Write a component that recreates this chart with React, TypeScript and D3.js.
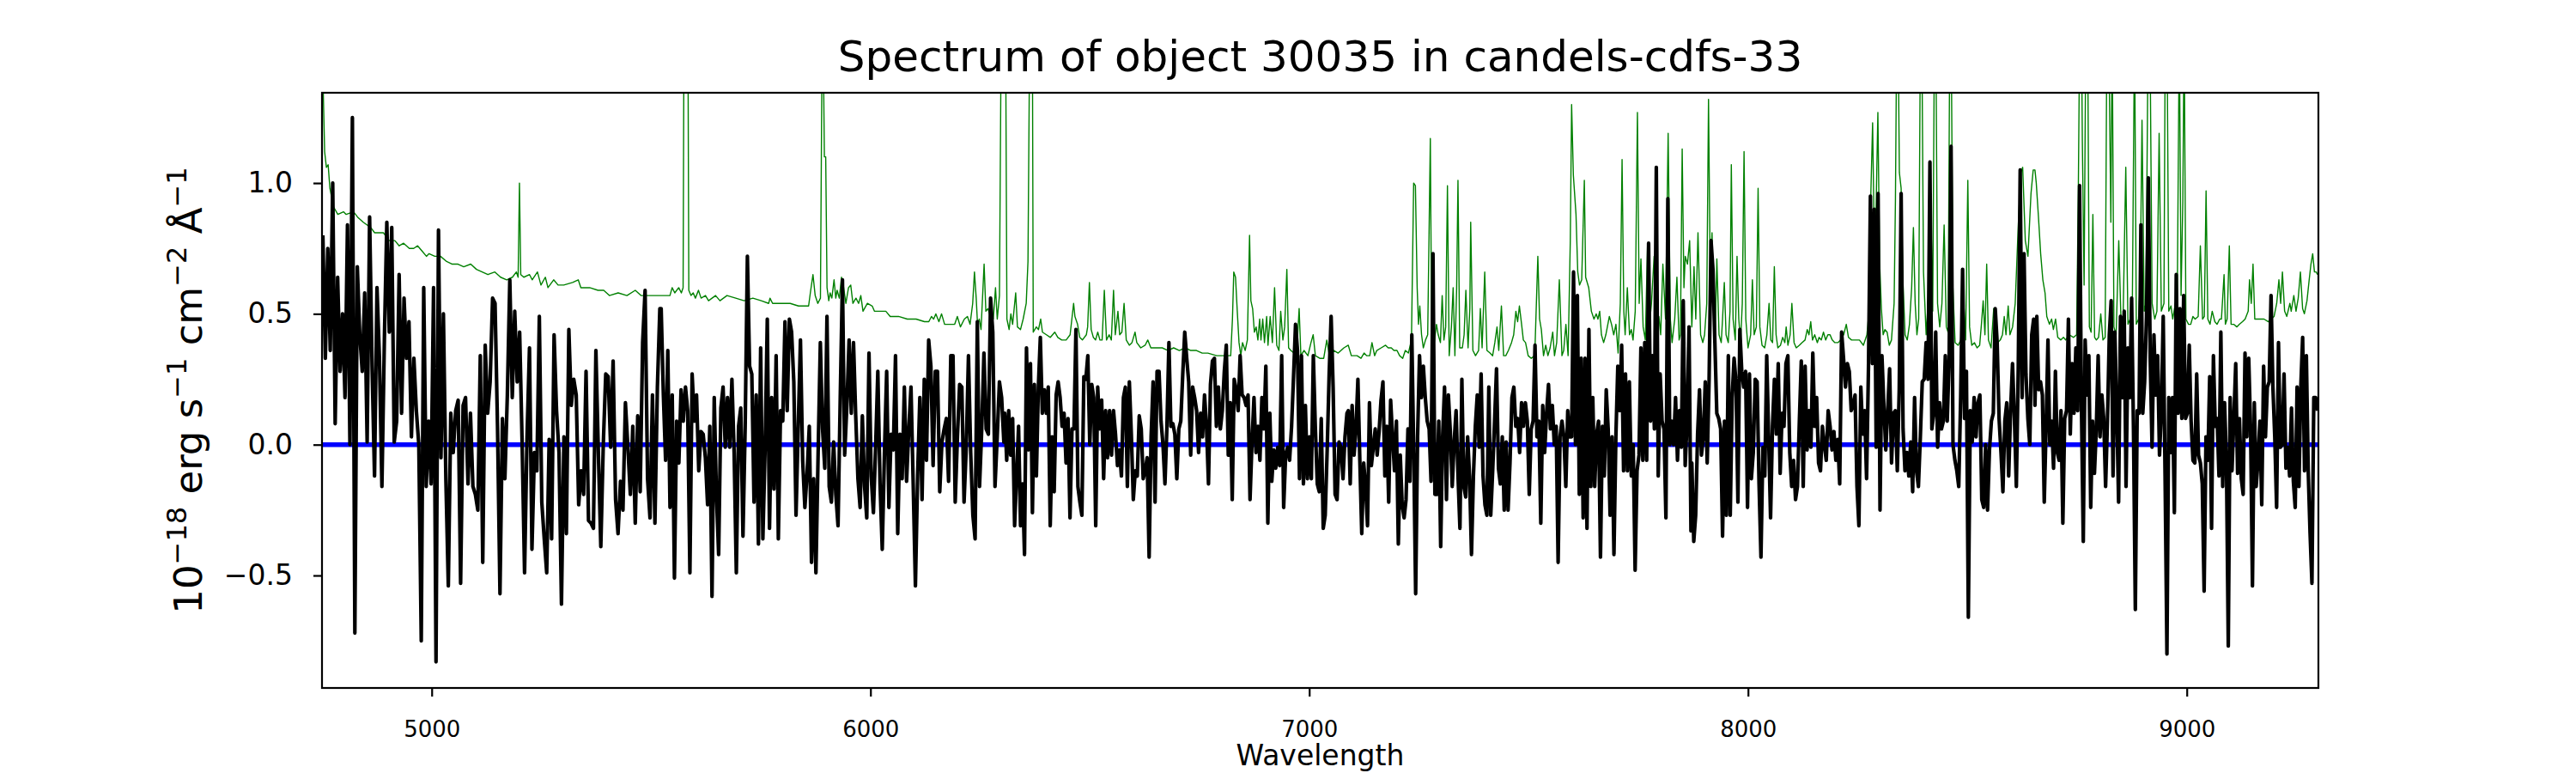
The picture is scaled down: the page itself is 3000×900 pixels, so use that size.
import React, { useEffect, useRef } from 'react';
import * as d3 from 'd3';

const chartTitle = 'Spectrum of object 30035 in candels-cdfs-33';
const xLabel = 'Wavelength';
const xTicks = [5000, 6000, 7000, 8000, 9000];
const yTicks = [-0.5, 0.0, 0.5, 1.0];
const waveRange: [number, number] = [4750, 9300];
const fluxRange: [number, number] = [-0.93, 1.345];
const zeroLevel = 0;

const chunkStart = [4752, 5523, 6306, 7089, 7872, 8654];
const chunkEnd = [5520, 6304, 7086, 7870, 8651, 9298];

const flux1 = [0.80, 0.33, 0.75, 0.36, 1.0, 0.08, 0.64, 0.28, 0.5, 0.18, 0.84, 0.0, 1.25, -0.72, 0.68, 0.42, 0.28, 0.58, 0.01, 0.87, 0.3, -0.12, 0.6, 0.33, -0.16, 0.4, 0.85, 0.43, 0.83, 0.01, 0.09, 0.65, 0.12, 0.56, 0.33, 0.47, 0.03, 0.33, 0.13, 0.0, -0.75, 0.6, -0.16, 0.09, -0.15, 0.6, -0.83, 0.82, -0.05, 0.5, -0.13, -0.54, 0.12, -0.03, 0.13, 0.17, -0.53, 0.15, 0.18, -0.15, 0.12, -0.16, -0.19, -0.25, 0.34, -0.45, 0.38, 0.12, 0.24, 0.56, 0.54, 0.07, -0.57, 0.1, -0.13, 0.19, 0.63, 0.18, 0.51, 0.24, 0.43, 0.01, -0.49, 0.03, 0.37, -0.4, -0.03, -0.1, 0.49, -0.22, -0.36, -0.49, 0.02, -0.36, 0.42, 0.13, -0.03, -0.61, 0.03, -0.34, 0.44, 0.15, 0.25, 0.19, -0.23, -0.1, -0.19, 0.28, -0.29, -0.3, -0.32, 0.36, -0.03, -0.39, 0.0, 0.27, 0.26, -0.01, 0.32, -0.21, -0.34, -0.14, -0.25, 0.16, -0.01, -0.19, 0.07, -0.3, 0.11, -0.18, 0.39, 0.59, -0.13, -0.28, 0.19, -0.3, 0.22, 0.52];
const flux2 = [0.52, 0.19, -0.06, 0.36, -0.24, 0.19, -0.51, 0.09, -0.07, 0.21, 0.09, 0.22, 0.13, -0.49, 0.27, 0.09, 0.19, -0.1, 0.05, 0.04, -0.05, -0.23, 0.07, -0.58, 0.18, -0.19, -0.42, 0.14, 0.22, -0.01, 0.18, -0.01, 0.25, -0.03, -0.49, 0.07, 0.14, -0.35, 0.07, 0.72, 0.3, 0.27, -0.22, 0.19, -0.38, 0.37, -0.36, -0.02, 0.48, -0.32, 0.18, -0.17, 0.34, -0.36, 0.13, 0.09, 0.47, 0.13, 0.48, 0.43, 0.24, -0.27, 0.07, 0.4, -0.06, -0.24, -0.11, 0.07, -0.45, -0.13, -0.49, -0.03, 0.39, 0.06, -0.09, 0.49, -0.16, -0.22, 0.01, -0.19, -0.31, 0.18, 0.63, -0.04, 0.15, 0.4, 0.12, 0.39, 0.11, -0.13, -0.24, 0.11, -0.16, -0.28, 0.35, -0.12, -0.26, -0.01, 0.28, -0.15, -0.4, -0.03, 0.28, -0.24, 0.04, -0.02, 0.34, -0.34, 0.04, -0.13, 0.22, -0.14, 0.06, 0.22, -0.15, -0.54, -0.12, 0.18, -0.21, 0.25, -0.06, 0.4, 0.3, -0.08, 0.28, 0.28, -0.18, 0.01, 0.06, 0.1, -0.14, 0.34, 0.34, -0.22, 0.03, 0.23, 0.22, -0.22, -0.01, 0.34, -0.03, -0.27, -0.36, 0.47, -0.16, 0.06, 0.35, 0.06, 0.04, 0.56, 0.43, -0.16, 0.03, 0.24, 0.18, 0.01];
const flux3 = [0.12, -0.06, 0.13, -0.04, 0.1, -0.31, -0.12, 0.07, -0.31, -0.15, -0.42, 0.37, -0.02, 0.31, -0.26, 0.23, -0.12, 0.22, 0.41, 0.12, 0.21, 0.12, 0.22, -0.31, 0.03, -0.18, 0.19, 0.24, 0.18, 0.07, 0.12, -0.07, 0.1, -0.28, 0.06, 0.06, 0.44, -0.16, -0.22, -0.27, 0.26, 0.25, 0.34, 0.0, 0.23, 0.18, -0.31, 0.22, 0.06, 0.17, -0.13, 0.13, -0.05, 0.13, -0.04, 0.13, 0.04, -0.08, -0.02, -0.12, 0.18, 0.22, -0.16, 0.24, 0.04, -0.21, -0.1, -0.12, 0.11, 0.06, -0.13, -0.1, -0.05, -0.43, 0.03, 0.24, -0.22, 0.28, 0.28, 0.09, 0.0, -0.15, 0.07, 0.39, 0.07, 0.08, 0.04, -0.13, 0.06, 0.09, 0.27, 0.43, 0.33, 0.24, -0.04, 0.22, 0.18, 0.13, -0.03, 0.12, 0.03, 0.19, 0.07, -0.15, 0.23, 0.32, 0.33, 0.07, 0.22, 0.06, 0.13, 0.28, 0.38, -0.04, 0.16, -0.21, 0.25, 0.21, 0.13, 0.34, 0.19, 0.18, 0.15, 0.19, -0.21, 0.01, 0.18, -0.03, 0.07, -0.06, 0.18, 0.06, 0.3, -0.3, 0.12, -0.14, -0.02, -0.09, -0.01, -0.08, 0.34, -0.24, -0.04, -0.01, -0.06, 0.07, 0.26, 0.46, 0.36, -0.13, 0.34, -0.15, 0.15, -0.13, 0.03, -0.13, 0.34, 0.07, -0.15, -0.18, 0.1, -0.32, -0.27, -0.02, 0.27, 0.49, 0.22, -0.19, -0.21, 0.01, -0.01, -0.13, 0.03, 0.12];
const flux4 = [0.13, -0.15, 0.15, -0.04, 0.06, 0.25, -0.06, -0.34, -0.07, -0.16, -0.31, 0.16, -0.08, -0.01, 0.06, -0.04, 0.05, 0.17, 0.24, -0.12, 0.07, -0.22, 0.17, 0.03, -0.1, 0.09, -0.38, -0.04, -0.23, -0.28, -0.21, 0.06, -0.14, 0.42, -0.03, -0.57, 0.03, 0.34, 0.18, 0.3, 0.18, 0.09, 0.06, -0.14, 0.73, -0.19, -0.19, 0.09, -0.39, 0.03, 0.22, -0.21, 0.19, 0.05, -0.16, 0.01, 0.13, -0.12, -0.32, 0.25, -0.16, -0.2, 0.03, -0.12, -0.42, -0.12, 0.07, 0.19, -0.01, 0.27, -0.12, -0.23, -0.27, 0.22, -0.27, -0.1, 0.09, 0.29, -0.09, -0.15, 0.03, -0.25, 0.01, -0.25, -0.07, 0.18, 0.22, 0.07, 0.1, -0.03, 0.16, 0.07, 0.16, 0.09, -0.19, 0.06, 0.09, 0.38, 0.03, 0.09, -0.3, 0.15, -0.03, 0.12, 0.23, 0.06, 0.15, 0.0, 0.07, -0.45, 0.03, 0.09, 0.03, -0.16, 0.13, 0.03, 0.03, 0.66, 0.0, 0.57, -0.19, 0.33, -0.28, 0.33, -0.32, 0.44, -0.16, 0.18, -0.16, 0.04, 0.09, -0.43, 0.07, -0.12, 0.21, 0.06, -0.27, 0.03, -0.42, 0.03, 0.3, 0.13, 0.38, -0.1, 0.27, -0.1, 0.24, -0.12, 0.0, -0.48, -0.1, -0.04, 0.37, -0.06, 0.39, -0.06, 0.77, 0.09, 0.34, 0.06, 1.06, -0.12, 0.27, 0.09, 0.06, -0.28, 0.94, 0.0, 0.09, 0.0, 0.18, -0.06, 0.13, -0.01, 0.55, -0.08, 0.09, 0.45, -0.33];
const flux5 = [-0.07, -0.37, -0.27, 0.04, 0.21, -0.04, 0.03, 0.24, -0.07, 0.25, 0.78, 0.67, 0.39, 0.12, 0.1, 0.06, -0.35, 0.09, -0.27, 0.34, -0.27, 0.18, 0.33, 0.24, -0.22, 0.44, 0.28, 0.22, 0.28, -0.24, 0.27, -0.13, -0.03, 0.25, 0.24, -0.15, -0.43, -0.01, -0.12, 0.34, 0.03, -0.28, 0.07, 0.25, 0.04, 0.31, -0.11, 0.12, 0.07, 0.31, 0.34, -0.03, -0.16, -0.06, -0.21, -0.16, 0.09, 0.32, -0.16, 0.3, -0.02, 0.13, -0.01, 0.35, 0.07, 0.18, -0.07, -0.1, 0.07, 0.0, -0.06, 0.13, 0.07, -0.02, 0.05, -0.06, 0.02, -0.15, 0.43, 0.33, 0.22, 0.31, 0.28, 0.13, 0.15, 0.19, -0.16, -0.31, 0.22, 0.04, 0.13, -0.13, 0.3, 0.95, 0.31, 0.9, -0.01, 0.96, -0.25, 0.34, 0.15, -0.02, 0.13, 0.29, -0.07, 0.12, 0.13, -0.1, 0.21, 0.96, 0.06, -0.1, -0.03, -0.12, 0.01, -0.18, 0.18, -0.1, -0.16, 0.03, 0.24, 0.25, 0.39, 0.25, 1.08, 0.06, 0.12, 0.43, -0.01, 0.16, 0.06, 0.09, 0.34, 0.09, 0.33, 1.14, 0.0, -0.06, -0.1, -0.16, 0.18, 0.67, 0.1, 0.28, -0.66, 0.13, 0.01, 0.18, 0.03, 0.16, 0.19, -0.21, -0.24, 0.0, -0.25, -0.02, 0.09, 0.12, 0.52, 0.39, 0.1, -0.03, -0.18, 0.09, 0.16, -0.12, 0.13, 0.31, 0.1, -0.16, 0.3, 1.05, 0.18, 0.73, 0.27, 0.1, 0.0, 0.42, 0.48];
const flux6 = [0.15, 0.49, 0.21, 0.24, 0.19, -0.22, 0.07, 0.4, 0.0, 0.09, -0.09, 0.28, -0.03, -0.06, 0.13, -0.3, 0.1, 0.13, 0.48, 0.04, 0.31, 0.12, 0.37, 0.13, 0.99, 0.15, -0.37, 0.4, 0.19, 0.34, -0.24, 0.09, -0.11, 0.06, 0.34, 0.03, 0.19, 0.1, -0.16, 0.09, 0.42, 0.55, -0.12, 0.43, 0.13, -0.22, 0.49, 0.18, 0.51, -0.16, 0.37, 0.18, 0.56, 0.06, -0.63, 0.13, 0.12, 0.84, 0.12, 0.24, 0.49, 1.02, 0.33, -0.01, 0.42, 0.19, 0.34, -0.04, 0.13, 0.49, -0.12, -0.8, 0.18, -0.03, 0.18, -0.26, 0.65, 0.12, 0.52, 0.1, 0.57, 0.1, 0.12, 0.38, 0.09, -0.06, -0.07, 0.27, -0.04, -0.07, -0.15, -0.56, 0.03, -0.06, 0.26, -0.32, 0.34, 0.07, 0.1, -0.12, 0.43, -0.16, 0.16, -0.06, -0.77, 0.18, -0.1, 0.1, 0.31, -0.11, 0.1, -0.13, -0.19, 0.35, 0.03, 0.33, 0.06, -0.54, 0.16, -0.16, -0.06, 0.09, -0.23, 0.3, 0.03, 0.22, 0.24, 0.57, 0.22, 0.03, -0.24, 0.39, -0.01, 0.0, 0.27, -0.09, -0.01, -0.12, 0.14, -0.14, -0.24, 0.22, -0.16, 0.22, 0.41, -0.1, 0.34, -0.1, -0.34, -0.53, 0.18, 0.18, 0.13];
const fluxChunks = [flux1, flux2, flux3, flux4, flux5, flux6];

// Noise / sky spectrum (green), [wavelength, value]
const noise1: [number, number][] = [[4750, 1.6], [4753, 1.34], [4756, 1.12], [4760, 1.06], [4764, 1.07], [4768, 0.98], [4776, 0.91], [4786, 0.88], [4799, 0.89], [4805, 0.88], [4822, 0.89], [4831, 0.87], [4844, 0.85], [4861, 0.83], [4870, 0.81], [4877, 0.81], [4890, 0.81], [4903, 0.78], [4916, 0.78], [4926, 0.76], [4936, 0.77], [4949, 0.75], [4959, 0.75], [4968, 0.76], [4978, 0.74], [4988, 0.72], [4994, 0.73], [5007, 0.72], [5020, 0.72], [5034, 0.70], [5047, 0.69], [5060, 0.69], [5073, 0.68], [5089, 0.69], [5102, 0.67], [5115, 0.66], [5128, 0.65], [5144, 0.66], [5157, 0.64], [5171, 0.63], [5184, 0.64], [5193, 0.66], [5197, 0.64], [5200, 1.0], [5203, 0.65], [5210, 0.64], [5223, 0.65], [5229, 0.63], [5241, 0.66], [5249, 0.61], [5259, 0.64], [5265, 0.60], [5278, 0.63], [5288, 0.61], [5301, 0.61], [5321, 0.62], [5334, 0.63], [5340, 0.60], [5360, 0.60], [5379, 0.59], [5392, 0.59], [5405, 0.57], [5425, 0.58], [5445, 0.57], [5464, 0.59], [5477, 0.57], [5497, 0.57]];
const noise2: [number, number][] = [[5523, 0.57], [5543, 0.57], [5548, 0.60], [5554, 0.58], [5563, 0.60], [5569, 0.58], [5573, 0.60], [5575, 1.6], [5580, 1.6], [5584, 1.6], [5586, 0.59], [5591, 0.57], [5596, 0.58], [5601, 0.56], [5608, 0.59], [5614, 0.56], [5624, 0.57], [5631, 0.55], [5647, 0.57], [5657, 0.55], [5673, 0.57], [5693, 0.56], [5712, 0.55], [5732, 0.56], [5751, 0.55], [5768, 0.54], [5771, 0.56], [5777, 0.54], [5797, 0.54], [5817, 0.54], [5836, 0.53], [5859, 0.53], [5863, 0.58], [5869, 0.65], [5874, 0.57], [5880, 0.54], [5886, 0.56], [5890, 1.6], [5892, 1.6], [5895, 1.1], [5898, 1.1], [5901, 0.6], [5905, 0.55], [5908, 0.58], [5912, 0.56], [5917, 0.63], [5921, 0.56], [5924, 0.59], [5929, 0.56], [5934, 0.64], [5938, 0.61], [5944, 0.54], [5950, 0.6], [5955, 0.61], [5960, 0.54], [5967, 0.56], [5973, 0.54], [5978, 0.57], [5983, 0.51], [5993, 0.54], [6004, 0.53], [6009, 0.51], [6019, 0.51], [6035, 0.51], [6045, 0.49], [6064, 0.49], [6084, 0.48], [6104, 0.48], [6123, 0.47], [6133, 0.47], [6139, 0.49], [6144, 0.48], [6149, 0.5], [6156, 0.47], [6162, 0.5], [6169, 0.46], [6182, 0.46], [6192, 0.46], [6198, 0.49], [6205, 0.45], [6214, 0.48], [6221, 0.49], [6227, 0.46], [6233, 0.54], [6237, 0.66], [6241, 0.56], [6244, 0.46], [6248, 0.48], [6252, 0.44], [6259, 0.69], [6263, 0.51], [6268, 0.52], [6273, 0.49], [6280, 0.48], [6285, 0.6], [6289, 0.48], [6294, 0.57], [6298, 1.6], [6303, 1.6]];
const noise3: [number, number][] = [[6308, 1.6], [6311, 0.48], [6316, 0.44], [6320, 0.5], [6324, 0.46], [6331, 0.58], [6335, 0.45], [6342, 0.44], [6348, 0.48], [6355, 0.54], [6359, 0.70], [6363, 1.6], [6369, 1.6], [6371, 0.43], [6378, 0.45], [6383, 0.44], [6388, 0.48], [6392, 0.43], [6401, 0.42], [6410, 0.41], [6420, 0.43], [6427, 0.41], [6436, 0.4], [6446, 0.4], [6455, 0.42], [6463, 0.54], [6466, 0.49], [6472, 0.46], [6477, 0.41], [6483, 0.4], [6492, 0.42], [6495, 0.45], [6499, 0.62], [6503, 0.44], [6508, 0.41], [6513, 0.4], [6518, 0.43], [6523, 0.4], [6528, 0.4], [6533, 0.59], [6538, 0.4], [6544, 0.42], [6549, 0.4], [6554, 0.59], [6558, 0.42], [6564, 0.51], [6568, 0.42], [6573, 0.43], [6578, 0.54], [6583, 0.4], [6590, 0.38], [6596, 0.39], [6603, 0.43], [6607, 0.39], [6616, 0.37], [6626, 0.38], [6632, 0.4], [6639, 0.37], [6652, 0.37], [6665, 0.37], [6678, 0.36], [6691, 0.37], [6704, 0.36], [6717, 0.37], [6730, 0.36], [6743, 0.36], [6756, 0.35], [6769, 0.35], [6789, 0.34], [6808, 0.34], [6821, 0.34], [6825, 0.48], [6828, 0.66], [6832, 0.64], [6836, 0.51], [6840, 0.39], [6844, 0.34], [6848, 0.39], [6854, 0.36], [6859, 0.4], [6864, 0.8], [6867, 0.55], [6871, 0.52], [6875, 0.43], [6879, 0.45], [6883, 0.4], [6887, 0.48], [6890, 0.4], [6894, 0.48], [6898, 0.39], [6903, 0.49], [6906, 0.38], [6911, 0.49], [6916, 0.39], [6921, 0.6], [6926, 0.38], [6931, 0.36], [6935, 0.51], [6940, 0.4], [6944, 0.45], [6949, 0.67], [6953, 0.37], [6958, 0.36], [6965, 0.35], [6971, 0.34], [6977, 0.52], [6981, 0.34], [6988, 0.36], [6997, 0.34], [7004, 0.39], [7009, 0.42], [7014, 0.34], [7024, 0.33], [7033, 0.33], [7040, 0.4], [7046, 0.34], [7056, 0.36], [7066, 0.35], [7079, 0.37], [7089, 0.38]];
const noise4: [number, number][] = [[7096, 0.34], [7109, 0.34], [7118, 0.33], [7125, 0.35], [7131, 0.34], [7138, 0.34], [7143, 0.39], [7149, 0.34], [7154, 0.36], [7164, 0.37], [7174, 0.38], [7180, 0.37], [7187, 0.37], [7193, 0.36], [7200, 0.36], [7206, 0.34], [7213, 0.33], [7219, 0.36], [7226, 0.35], [7233, 0.4], [7238, 1.0], [7242, 0.99], [7246, 0.6], [7249, 0.46], [7252, 0.53], [7256, 0.42], [7260, 0.37], [7265, 0.4], [7270, 0.42], [7276, 1.17], [7279, 0.42], [7285, 0.39], [7290, 0.46], [7294, 0.42], [7299, 0.39], [7303, 0.57], [7307, 0.4], [7311, 0.45], [7315, 0.99], [7319, 0.34], [7324, 0.45], [7328, 0.6], [7332, 0.34], [7336, 0.6], [7339, 1.01], [7343, 0.37], [7349, 0.37], [7353, 0.42], [7357, 0.59], [7362, 0.37], [7366, 0.52], [7368, 0.85], [7373, 0.36], [7379, 0.34], [7386, 0.36], [7390, 0.52], [7394, 0.37], [7400, 0.66], [7405, 0.36], [7412, 0.35], [7418, 0.34], [7423, 0.39], [7428, 0.45], [7432, 0.36], [7438, 0.53], [7443, 0.34], [7448, 0.34], [7454, 0.36], [7461, 0.39], [7466, 0.42], [7471, 0.51], [7475, 0.47], [7479, 0.53], [7484, 0.46], [7488, 0.4], [7493, 0.39], [7499, 0.34], [7506, 0.33], [7514, 0.34], [7521, 0.72], [7525, 0.48], [7529, 0.44], [7534, 0.34], [7539, 0.38], [7544, 0.34], [7549, 0.37], [7555, 0.43], [7559, 0.34], [7564, 0.39], [7570, 0.63], [7576, 0.34], [7580, 0.36], [7585, 0.46], [7590, 0.34], [7595, 0.78], [7598, 1.3], [7602, 1.03], [7608, 0.88], [7612, 0.66], [7616, 0.61], [7621, 0.63], [7627, 1.01], [7630, 0.64], [7637, 0.6], [7643, 0.51], [7649, 0.48], [7654, 0.5], [7658, 0.48], [7662, 0.51], [7666, 0.42], [7671, 0.39], [7676, 0.42], [7684, 0.49], [7689, 0.46], [7694, 0.42], [7699, 0.46], [7704, 0.35], [7709, 0.54], [7713, 1.09], [7717, 0.51], [7720, 0.42], [7725, 0.6], [7730, 0.42], [7734, 0.44], [7738, 0.4], [7743, 0.51], [7748, 1.27], [7752, 0.54], [7756, 0.71], [7761, 0.45], [7766, 0.4], [7771, 0.76], [7775, 0.45], [7780, 0.54], [7786, 0.72], [7790, 0.41], [7797, 0.49], [7801, 0.42], [7806, 0.69], [7812, 0.48], [7818, 1.19], [7823, 0.48], [7827, 0.39], [7833, 0.48], [7838, 0.64], [7843, 0.4], [7846, 0.42], [7850, 1.13], [7854, 0.6], [7857, 0.72], [7862, 0.69], [7867, 0.78]];
const noise5: [number, number][] = [[7872, 0.45], [7877, 0.68], [7881, 0.48], [7886, 0.81], [7892, 0.42], [7897, 0.39], [7901, 0.42], [7906, 0.54], [7910, 1.32], [7914, 0.63], [7918, 0.81], [7922, 0.51], [7925, 0.4], [7929, 0.71], [7934, 0.42], [7939, 0.39], [7942, 0.48], [7946, 0.62], [7950, 0.42], [7955, 0.39], [7959, 0.51], [7962, 1.07], [7966, 0.48], [7971, 0.4], [7975, 0.72], [7979, 0.48], [7983, 0.39], [7987, 0.54], [7991, 1.12], [7995, 0.48], [8000, 0.37], [8006, 0.42], [8010, 0.63], [8014, 0.42], [8019, 0.45], [8023, 0.98], [8027, 0.45], [8032, 0.38], [8038, 0.37], [8043, 0.42], [8048, 0.54], [8052, 0.4], [8056, 0.39], [8060, 0.68], [8064, 0.42], [8068, 0.37], [8074, 0.38], [8079, 0.41], [8084, 0.39], [8087, 0.45], [8091, 0.38], [8096, 0.42], [8100, 0.54], [8105, 0.39], [8110, 0.37], [8117, 0.38], [8123, 0.39], [8130, 0.4], [8135, 0.44], [8139, 0.42], [8143, 0.47], [8147, 0.4], [8152, 0.42], [8158, 0.39], [8162, 0.41], [8167, 0.4], [8172, 0.43], [8177, 0.4], [8182, 0.42], [8187, 0.42], [8192, 0.4], [8198, 0.39], [8205, 0.39], [8211, 0.4], [8218, 0.42], [8224, 0.46], [8229, 0.41], [8236, 0.4], [8244, 0.4], [8254, 0.4], [8263, 0.38], [8271, 0.42], [8276, 0.51], [8280, 0.96], [8284, 1.23], [8288, 0.75], [8292, 0.91], [8296, 1.27], [8300, 0.7], [8304, 0.52], [8308, 0.42], [8312, 0.44], [8317, 0.43], [8322, 0.38], [8327, 0.4], [8333, 0.54], [8336, 0.93], [8339, 1.6], [8342, 1.6], [8345, 1.04], [8349, 0.98], [8353, 0.63], [8358, 0.42], [8363, 0.4], [8368, 0.46], [8373, 0.6], [8377, 0.83], [8381, 0.54], [8385, 0.42], [8389, 0.48], [8393, 1.6], [8396, 1.6], [8400, 0.66], [8406, 0.42], [8411, 0.56], [8416, 0.97], [8421, 0.51], [8425, 1.6], [8428, 1.6], [8432, 0.54], [8437, 0.45], [8442, 0.54], [8447, 0.84], [8452, 0.45], [8456, 0.43], [8460, 1.6], [8463, 1.6], [8467, 0.6], [8472, 0.39], [8479, 0.38], [8485, 0.4], [8490, 0.6], [8496, 0.4], [8501, 1.01], [8505, 0.45], [8510, 0.38], [8516, 0.39], [8522, 0.37], [8528, 0.38], [8532, 0.46], [8536, 0.55], [8540, 0.42], [8544, 0.69], [8548, 0.4], [8554, 0.37], [8560, 0.52], [8563, 0.45], [8569, 0.39], [8575, 0.4], [8580, 0.42], [8584, 0.49], [8588, 0.42], [8593, 0.53], [8597, 0.42], [8603, 0.45], [8609, 0.54], [8616, 0.84], [8622, 1.04], [8626, 1.06], [8632, 0.78], [8638, 0.72], [8645, 0.96], [8650, 1.05]];
const noise6: [number, number][] = [[8654, 1.05], [8657, 1.0], [8662, 0.87], [8667, 0.73], [8672, 0.63], [8677, 0.58], [8681, 0.49], [8687, 0.46], [8692, 0.48], [8696, 0.44], [8701, 0.48], [8706, 0.41], [8713, 0.4], [8719, 0.41], [8724, 0.4], [8732, 0.42], [8742, 0.41], [8749, 0.42], [8753, 1.0], [8756, 1.6], [8760, 1.6], [8762, 1.16], [8766, 0.61], [8770, 1.6], [8774, 1.6], [8778, 0.45], [8782, 0.43], [8786, 0.88], [8790, 0.41], [8794, 0.4], [8799, 0.41], [8804, 0.5], [8809, 0.4], [8814, 0.41], [8818, 1.6], [8822, 1.6], [8827, 0.85], [8830, 1.6], [8834, 0.45], [8839, 0.42], [8845, 0.78], [8850, 0.48], [8855, 0.49], [8861, 1.06], [8866, 0.46], [8871, 0.48], [8876, 0.55], [8881, 1.6], [8885, 0.46], [8890, 0.48], [8894, 0.63], [8898, 1.24], [8903, 0.51], [8907, 0.54], [8912, 1.6], [8916, 1.6], [8921, 0.54], [8927, 0.48], [8932, 0.51], [8937, 1.19], [8942, 0.51], [8948, 0.54], [8951, 1.6], [8955, 1.6], [8959, 0.51], [8964, 0.53], [8968, 0.48], [8974, 0.54], [8978, 0.48], [8983, 1.6], [8987, 0.57], [8991, 0.93], [8994, 1.6], [8998, 0.48], [9004, 0.46], [9009, 0.46], [9014, 0.49], [9019, 0.48], [9026, 0.49], [9031, 0.76], [9036, 0.48], [9040, 0.49], [9044, 0.97], [9048, 0.48], [9053, 0.46], [9058, 0.51], [9064, 0.47], [9069, 0.46], [9075, 0.48], [9079, 0.48], [9085, 0.65], [9088, 0.46], [9092, 0.48], [9097, 0.76], [9101, 0.46], [9107, 0.46], [9114, 0.45], [9120, 0.46], [9127, 0.47], [9133, 0.48], [9140, 0.51], [9143, 0.63], [9147, 0.54], [9151, 0.69], [9155, 0.48], [9161, 0.48], [9169, 0.48], [9176, 0.48], [9186, 0.47], [9192, 0.48], [9199, 0.49], [9205, 0.54], [9210, 0.63], [9214, 0.54], [9218, 0.66], [9223, 0.51], [9228, 0.49], [9235, 0.54], [9238, 0.51], [9244, 0.57], [9249, 0.51], [9254, 0.56], [9259, 0.66], [9264, 0.52], [9268, 0.5], [9274, 0.55], [9279, 0.63], [9283, 0.69], [9287, 0.73], [9291, 0.66], [9295, 0.66], [9298, 0.65]];
const noiseChunks = [noise1, noise2, noise3, noise4, noise5, noise6];

const FONT = '"DejaVu Sans", sans-serif';

export default function App() {
    const svgRef = useRef<SVGSVGElement>(null);

    useEffect(() => {
        if (!svgRef.current) return;
        const svg = d3.select(svgRef.current);
        svg.selectAll('*').remove();

        const width = 3000;
        const height = 900;
        const margin = { top: 108, right: 300, bottom: 99, left: 375 };

        const x = d3.scaleLinear().domain(waveRange).range([margin.left, width - margin.right]);
        const y = d3.scaleLinear().domain(fluxRange).range([height - margin.bottom, margin.top]);

        // flux chunks -> points on an even grid per chunk
        const fluxPoints: [number, number][] = [];
        fluxChunks.forEach((vals, i) => {
            const step = (chunkEnd[i] - chunkStart[i]) / (vals.length - 1);
            vals.forEach((v, j) => fluxPoints.push([chunkStart[i] + j * step, v]));
        });
        const noisePoints = noiseChunks.flat();

        svg.append('rect').attr('width', width).attr('height', height).attr('fill', 'white');

        svg.append('defs').append('clipPath').attr('id', 'plot-area')
            .append('rect')
            .attr('x', margin.left).attr('y', margin.top)
            .attr('width', width - margin.left - margin.right)
            .attr('height', height - margin.top - margin.bottom);

        const line = d3.line<[number, number]>()
            .x(d => x(d[0]))
            .y(d => y(d[1]));

        const plot = svg.append('g').attr('clip-path', 'url(#plot-area)');

        plot.append('path')
            .datum(noisePoints)
            .attr('d', line)
            .attr('fill', 'none')
            .attr('stroke', '#008000')
            .attr('stroke-width', 1.4)
            .attr('stroke-linejoin', 'round');

        plot.append('line')
            .attr('x1', x(waveRange[0])).attr('x2', x(waveRange[1]))
            .attr('y1', y(zeroLevel)).attr('y2', y(zeroLevel))
            .attr('stroke', '#0000ff')
            .attr('stroke-width', 5.5);

        plot.append('path')
            .datum(fluxPoints)
            .attr('d', line)
            .attr('fill', 'none')
            .attr('stroke', '#000000')
            .attr('stroke-width', 4.2)
            .attr('stroke-linejoin', 'round');

        // axes
        const xAxis = svg.append('g')
            .attr('transform', `translate(0,${height - margin.bottom})`)
            .call(d3.axisBottom(x).tickValues(xTicks).tickFormat(d3.format('d')).tickSize(10).tickSizeOuter(0).tickPadding(29));
        xAxis.select('.domain').remove();
        xAxis.selectAll('line').attr('stroke', '#000').attr('stroke-width', 2.2);
        xAxis.selectAll('text').attr('font-family', FONT).attr('font-size', 26).attr('fill', '#000');

        const yAxis = svg.append('g')
            .attr('transform', `translate(${margin.left},0)`)
            .call(d3.axisLeft(y).tickValues(yTicks).tickFormat(d3.format('.1f')).tickSize(10).tickSizeOuter(0).tickPadding(24));
        yAxis.select('.domain').remove();
        yAxis.selectAll('line').attr('stroke', '#000').attr('stroke-width', 2.2);
        yAxis.selectAll('text').attr('font-family', FONT).attr('font-size', 33).attr('fill', '#000');

        // frame
        svg.append('rect')
            .attr('x', margin.left).attr('y', margin.top)
            .attr('width', width - margin.left - margin.right)
            .attr('height', height - margin.top - margin.bottom)
            .attr('fill', 'none')
            .attr('stroke', '#000')
            .attr('stroke-width', 2.2);

        // title
        svg.append('text')
            .attr('x', (margin.left + width - margin.right) / 2)
            .attr('y', 83)
            .attr('text-anchor', 'middle')
            .attr('font-family', FONT)
            .attr('font-size', 50)
            .attr('fill', '#000')
            .text(chartTitle);

        // x label
        svg.append('text')
            .attr('x', (margin.left + width - margin.right) / 2)
            .attr('y', 891)
            .attr('text-anchor', 'middle')
            .attr('font-family', FONT)
            .attr('font-size', 33)
            .attr('fill', '#000')
            .text(xLabel);

        // y label with superscripts
        const yl = svg.append('text')
            .attr('transform', `translate(235,${(margin.top + height - margin.bottom) / 2}) rotate(-90)`)
            .attr('text-anchor', 'middle')
            .attr('font-family', FONT)
            .attr('font-size', 45)
            .attr('fill', '#000');
        const parts: [string, boolean][] = [
            ['10', false], ['\u221218', true], [' erg s', false], ['\u22121', true],
            [' cm', false], ['\u22122', true], [' \u00c5', false], ['\u22121', true]
        ];
        let raised = false;
        parts.forEach(([t, sup]) => {
            const dy = sup === raised ? 0 : (sup ? -18 : 18);
            raised = sup;
            yl.append('tspan')
                .attr('dy', dy)
                .attr('font-size', sup ? 32 : 45)
                .text(t);
        });
    }, []);

    return (
        <svg
            ref={svgRef}
            width={3000}
            height={900}
            style={{ position: 'absolute', left: 0, top: 0, display: 'block' }}
        />
    );
}
